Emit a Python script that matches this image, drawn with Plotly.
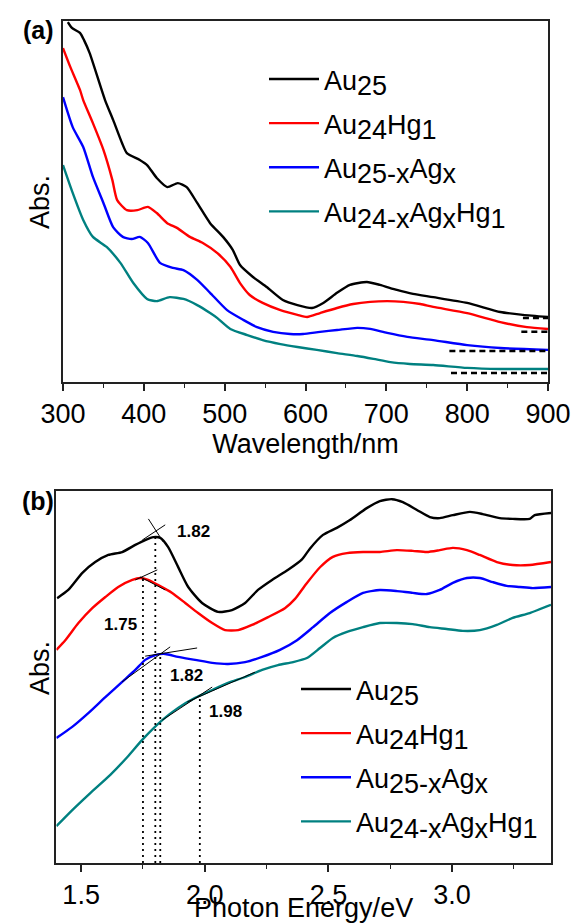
import plotly.graph_objects as go

# ---------------- Panel (a): UV-vis absorption vs wavelength ----------------
wl_au25 = [306, 311, 321, 326, 333, 352, 362, 373, 379, 395, 404, 416, 429, 442, 453, 466, 482, 498, 510,
           519, 535, 552, 572, 590, 608, 622, 639, 655, 676, 692, 713, 733, 758, 800, 841, 869, 900]
ab_au25 = [0.997, 0.981, 0.967, 0.947, 0.911, 0.781, 0.726, 0.662, 0.634, 0.615, 0.601, 0.565, 0.540, 0.551,
           0.540, 0.496, 0.440, 0.402, 0.366, 0.324, 0.291, 0.263, 0.227, 0.213, 0.205, 0.219, 0.247, 0.269,
           0.277, 0.269, 0.255, 0.244, 0.235, 0.219, 0.194, 0.186, 0.180]

wl_hg = [300, 309, 321, 325, 337, 350, 361, 367, 379, 392, 405, 416, 429, 441, 457, 473, 491, 507, 519, 531,
         547, 569, 590, 602, 618, 639, 659, 680, 701, 721, 742, 758, 800, 841, 874, 900]
ab_hg = [0.925, 0.873, 0.809, 0.781, 0.717, 0.643, 0.560, 0.504, 0.476, 0.476, 0.485, 0.468, 0.440, 0.427,
         0.402, 0.385, 0.357, 0.319, 0.274, 0.241, 0.219, 0.199, 0.186, 0.180, 0.191, 0.205, 0.216, 0.222,
         0.224, 0.222, 0.216, 0.208, 0.191, 0.166, 0.152, 0.147]

wl_ag = [300, 312, 325, 337, 350, 362, 374, 385, 395, 405, 420, 436, 449, 466, 482, 503, 523, 540, 560, 581,
         597, 618, 639, 664, 680, 701, 726, 758, 800, 841, 900]
ab_ag = [0.789, 0.706, 0.651, 0.568, 0.496, 0.429, 0.402, 0.396, 0.402, 0.385, 0.330, 0.316, 0.310, 0.283,
         0.247, 0.199, 0.172, 0.152, 0.139, 0.133, 0.133, 0.139, 0.144, 0.150, 0.147, 0.136, 0.125, 0.116,
         0.102, 0.094, 0.089]

wl_aghg = [300, 312, 325, 337, 354, 371, 387, 404, 416, 432, 449, 466, 482, 491, 507, 528, 547, 569, 590, 614,
           639, 664, 684, 705, 729, 758, 800, 841, 900]
ab_aghg = [0.601, 0.524, 0.449, 0.402, 0.374, 0.330, 0.274, 0.230, 0.224, 0.235, 0.230, 0.213, 0.191, 0.177,
           0.147, 0.130, 0.116, 0.105, 0.097, 0.089, 0.080, 0.072, 0.064, 0.055, 0.050, 0.047, 0.039, 0.036,
           0.036]

# dashed baselines (start wavelength, level) for each sample
base_start = [869, 867, 778, 780]
base_level = [0.177, 0.139, 0.086, 0.025]

# ---------------- Panel (b): absorption vs photon energy ----------------
e_au25 = [1.403, 1.448, 1.505, 1.557, 1.610, 1.666, 1.719, 1.759, 1.792, 1.820, 1.852, 1.892, 1.933, 1.989,
          2.054, 2.110, 2.163, 2.215, 2.272, 2.337, 2.393, 2.425, 2.478, 2.534, 2.587, 2.655, 2.708, 2.757,
          2.801, 2.858, 2.910, 2.950, 3.003, 3.072, 3.124, 3.193, 3.245, 3.314, 3.334, 3.400]
b_au25 = [0.712, 0.734, 0.780, 0.809, 0.828, 0.836, 0.855, 0.868, 0.876, 0.874, 0.849, 0.796, 0.742, 0.699,
          0.675, 0.680, 0.699, 0.734, 0.761, 0.788, 0.816, 0.845, 0.882, 0.901, 0.922, 0.954, 0.973, 0.978,
          0.970, 0.949, 0.930, 0.927, 0.935, 0.944, 0.938, 0.927, 0.925, 0.925, 0.935, 0.941]

e_hg = [1.400, 1.436, 1.489, 1.545, 1.598, 1.650, 1.707, 1.739, 1.771, 1.812, 1.868, 1.921, 1.973, 2.030,
        2.082, 2.135, 2.191, 2.256, 2.324, 2.365, 2.410, 2.466, 2.518, 2.575, 2.640, 2.708, 2.777, 2.841,
        2.898, 2.950, 3.003, 3.060, 3.112, 3.181, 3.245, 3.314, 3.400]
b_hg = [0.573, 0.599, 0.645, 0.685, 0.715, 0.742, 0.761, 0.766, 0.761, 0.747, 0.726, 0.699, 0.672, 0.645,
        0.626, 0.626, 0.640, 0.661, 0.685, 0.710, 0.750, 0.795, 0.823, 0.833, 0.836, 0.836, 0.841, 0.839,
        0.836, 0.841, 0.847, 0.841, 0.828, 0.809, 0.801, 0.801, 0.809]

e_ag = [1.400, 1.464, 1.529, 1.598, 1.666, 1.719, 1.759, 1.800, 1.840, 1.892, 1.961, 2.030, 2.094, 2.163,
        2.232, 2.304, 2.373, 2.438, 2.506, 2.575, 2.640, 2.708, 2.777, 2.841, 2.898, 2.950, 3.003, 3.060,
        3.112, 3.165, 3.221, 3.274, 3.326, 3.400]
b_ag = [0.336, 0.366, 0.403, 0.446, 0.487, 0.519, 0.546, 0.559, 0.562, 0.554, 0.546, 0.538, 0.535, 0.540,
        0.554, 0.573, 0.599, 0.634, 0.672, 0.702, 0.726, 0.734, 0.731, 0.726, 0.723, 0.734, 0.753, 0.766,
        0.766, 0.755, 0.745, 0.742, 0.739, 0.742]

e_aghg = [1.400, 1.456, 1.537, 1.618, 1.687, 1.747, 1.828, 1.892, 1.961, 2.030, 2.094, 2.163, 2.232, 2.296,
          2.357, 2.413, 2.466, 2.518, 2.575, 2.640, 2.708, 2.777, 2.841, 2.910, 2.978, 3.043, 3.112, 3.181,
          3.245, 3.314, 3.400]
b_aghg = [0.099, 0.137, 0.188, 0.237, 0.285, 0.331, 0.384, 0.417, 0.444, 0.465, 0.484, 0.500, 0.519, 0.532,
          0.540, 0.551, 0.578, 0.605, 0.621, 0.634, 0.645, 0.645, 0.642, 0.634, 0.629, 0.624, 0.626, 0.640,
          0.659, 0.672, 0.694]

# band-edge (onset) markers: vertical dotted line position, its top, label text and label position
onset_x = [1.80, 1.75, 1.82, 1.98]
onset_top = [0.876, 0.766, 0.559, 0.444]
onset_text = ["1.82", "1.75", "1.82", "1.98"]
onset_lab_x = [1.953, 1.658, 1.925, 2.082]
onset_lab_y = [0.890, 0.642, 0.505, 0.406]

# tangent line segments (x0, x1, y0, y1)
tangents = [
    (1.772, 1.832, 0.925, 0.863), (1.747, 1.840, 0.868, 0.909),
    (1.719, 1.808, 0.761, 0.788), (1.739, 1.840, 0.769, 0.734),
    (1.759, 1.969, 0.556, 0.578), (1.666, 1.860, 0.487, 0.581),
    (1.828, 2.030, 0.384, 0.473), (1.929, 2.203, 0.433, 0.513),
]

FONT = "Liberation Sans, Arial, sans-serif"
LEG = 27


def sb(t):
    # full-size subscript, as in the original figure
    return "<sub><span style='font-size:%dpx'>%s</span></sub>" % (LEG, t)


names = ["Au" + sb("25"), "Au" + sb("24") + "Hg" + sb("1"),
         "Au" + sb("25-x") + "Ag" + sb("x"), "Au" + sb("24-x") + "Ag" + sb("x") + "Hg" + sb("1")]
colors = ["#000000", "#ff0000", "#0000ff", "#008080"]

W, H = 571, 923

fig = go.Figure()

series_a = [(wl_au25, ab_au25), (wl_hg, ab_hg), (wl_ag, ab_ag), (wl_aghg, ab_aghg)]
for i, ((xs, ys), n, c) in enumerate(zip(series_a, names, colors)):
    fig.add_trace(go.Scatter(x=xs, y=ys, mode="lines", name=n, legendgroup="a%d" % i,
                             line=dict(color=c, width=2.4, shape="spline", smoothing=0.6),
                             xaxis="x", yaxis="y", legend="legend"))
for s, lv in zip(base_start, base_level):
    fig.add_trace(go.Scatter(x=[s, 900], y=[lv, lv], mode="lines", showlegend=False,
                             line=dict(color="black", width=2.5, dash="6px,4px"), xaxis="x", yaxis="y"))

series_b = [(e_au25, b_au25), (e_hg, b_hg), (e_ag, b_ag), (e_aghg, b_aghg)]
for i, ((xs, ys), n, c) in enumerate(zip(series_b, names, colors)):
    fig.add_trace(go.Scatter(x=xs, y=ys, mode="lines", name=n, legendgroup="b%d" % i,
                             line=dict(color=c, width=2.4, shape="spline", smoothing=0.6),
                             xaxis="x2", yaxis="y2", legend="legend2"))
for ox, ot in zip(onset_x, onset_top):
    fig.add_trace(go.Scatter(x=[ox, ox], y=[0, ot], mode="lines", showlegend=False,
                             line=dict(color="black", width=1.8, dash="2px,4px"), xaxis="x2", yaxis="y2"))
for (x0, x1, y0, y1) in tangents:
    fig.add_trace(go.Scatter(x=[x0, x1], y=[y0, y1], mode="lines", showlegend=False,
                             line=dict(color="black", width=1), xaxis="x2", yaxis="y2"))

tick_font = dict(size=27, family=FONT, color="black")

annotations = []
for t, lx, ly in zip(onset_text, onset_lab_x, onset_lab_y):
    annotations.append(dict(x=lx, y=ly, xref="x2", yref="y2", text="<b>%s</b>" % t, showarrow=False,
                            xanchor="center", yanchor="middle",
                            font=dict(family=FONT, size=17, color="black")))
for txt, px, py, sz, ang in [("<b>(a)</b>", 39, 30, 25, 0), ("<b>(b)</b>", 38, 501, 25, 0),
                             ("Abs.", 40, 202, 27, -90), ("Abs.", 40, 668, 27, -90)]:
    annotations.append(dict(x=px / W, y=1 - py / H, xref="paper", yref="paper", text=txt, textangle=ang,
                            showarrow=False, xanchor="center", yanchor="middle",
                            font=dict(family=FONT, size=sz, color="black")))
# x-axis title of panel (b), placed as in the original (slightly cut at the bottom edge)
annotations.append(dict(x=(56.4 + 551) / 2 / W, y=1 - 891 / H, xref="paper", yref="paper",
                        text="Photon Energy/eV", showarrow=False, xanchor="center", yanchor="top",
                        font=tick_font))

axis_common = dict(showline=True, linecolor="#222", linewidth=1.5, mirror=True, showgrid=False,
                   zeroline=False, automargin=False)

fig.update_layout(
    width=W, height=H, margin=dict(l=0, r=0, t=0, b=0),
    paper_bgcolor="white", plot_bgcolor="white",
    font=dict(family=FONT, color="black"),
    xaxis=dict(domain=[63 / W, 548 / W], range=[300, 900], anchor="y", dtick=100, tick0=300,
               ticks="outside", ticklen=7, tickwidth=1.5, tickcolor="#222", tickfont=tick_font,
               minor=dict(dtick=50, ticks="outside", ticklen=4, tickwidth=1.2, tickcolor="#222"),
               title=dict(text="Wavelength/nm", font=tick_font, standoff=1),
               **axis_common),
    yaxis=dict(domain=[1 - 382 / H, 1 - 21 / H], range=[0, 1], anchor="x", showticklabels=False, ticks="",
               **axis_common),
    xaxis2=dict(domain=[56.4 / W, 551 / W], range=[1.4, 3.4], anchor="y2", dtick=0.5, tick0=1.5,
                tickformat=".1f",
                ticks="outside", ticklen=7, tickwidth=1.5, tickcolor="#222", tickfont=tick_font,
                minor=dict(dtick=0.25, ticks="outside", ticklen=4, tickwidth=1.2, tickcolor="#222"),
                **axis_common),
    yaxis2=dict(domain=[1 - 863 / H, 1 - 491 / H], range=[0, 1], anchor="x2", showticklabels=False, ticks="",
                **axis_common),
    legend=dict(x=264 / W, y=1 - 55 / H, xanchor="left", yanchor="top", bgcolor="rgba(0,0,0,0)",
                font=dict(size=LEG, family=FONT, color="black"), itemwidth=50, tracegroupgap=6),
    legend2=dict(x=296 / W, y=1 - 665 / H, xanchor="left", yanchor="top", bgcolor="rgba(0,0,0,0)",
                 font=dict(size=LEG, family=FONT, color="black"), itemwidth=50, tracegroupgap=6),
    annotations=annotations,
)

fig.write_html("out.html")
